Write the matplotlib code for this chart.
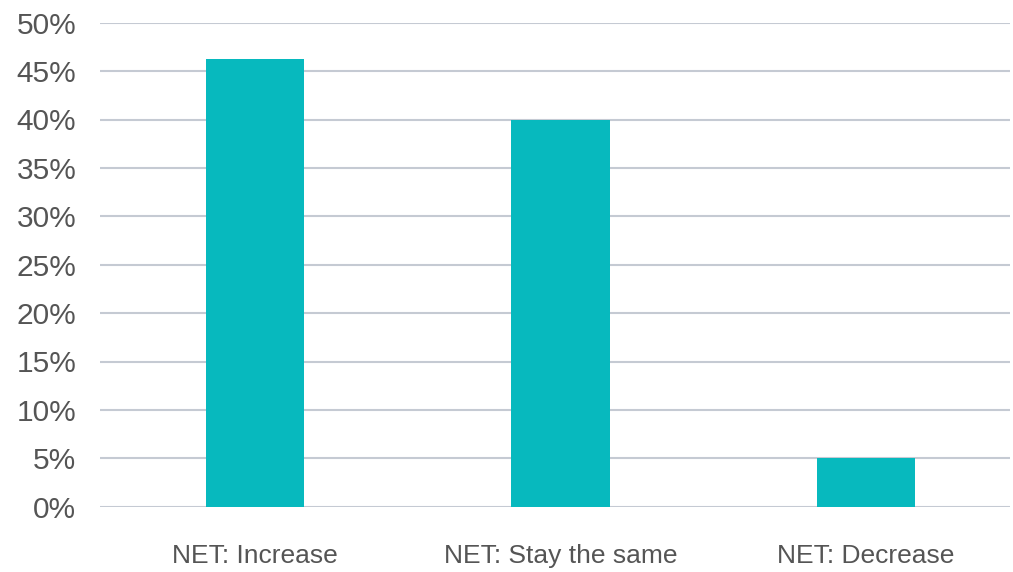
import matplotlib.pyplot as plt
from matplotlib.ticker import MultipleLocator, FuncFormatter

categories = ['NET: Increase', 'NET: Stay the same', 'NET: Decrease']
values = [46.3, 40.0, 5.0]

plt.rcParams['font.family'] = ['Liberation Sans Narrow', 'Liberation Sans', 'DejaVu Sans']

fig = plt.figure(figsize=(10.13, 5.72), dpi=100)
ax = fig.add_axes([100 / 1013, 65.3 / 572, 910 / 1013, 484 / 572])

x = range(len(categories))
ax.bar(x, values, width=0.322, color='#07b9be', zorder=3)

ax.set_ylim(0, 50)
ax.set_xlim(-0.507, 2.471)
ax.yaxis.set_major_locator(MultipleLocator(5))
ax.yaxis.set_major_formatter(FuncFormatter(lambda v, _: f'{v:.0f}%'))
ax.set_xticks(list(x))
ax.set_xticklabels(categories)

ax.grid(axis='y', color='#c5cad3', linewidth=1.5, zorder=0)
for s in ax.spines.values():
    s.set_visible(False)
ax.tick_params(axis='y', length=0, pad=17, labelsize=21.5, labelcolor='#555555')
ax.tick_params(axis='x', length=0, pad=27, labelsize=19, labelcolor='#555555')

fig.savefig('out.png', dpi=100)
